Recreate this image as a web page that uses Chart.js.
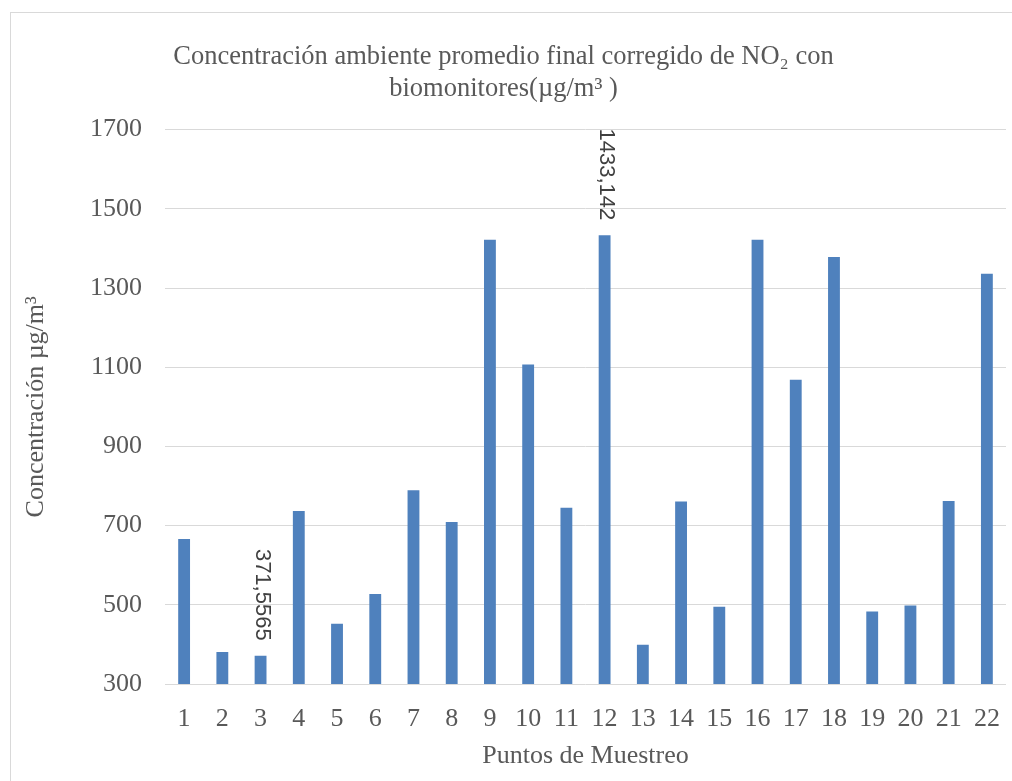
<!DOCTYPE html>
<html lang="es">

<head>
    <meta charset="UTF-8">
    <title>Concentración NO2 con biomonitores</title>
    <script src="https://cdn.jsdelivr.net/npm/chart.js"></script>
    <style>
        html, body {
            margin: 0;
            padding: 0;
            background: #ffffff;
            overflow: hidden;
        }

        #wrap {
            position: relative;
            width: 1012px;
            height: 781px;
        }

        #frame {
            position: absolute;
            left: 10px;
            top: 12px;
            width: 1100px;
            height: 900px;
            border-left: 1px solid #d9d9d9;
            border-top: 1px solid #d9d9d9;
        }

        canvas {
            position: absolute;
            left: 0;
            top: 0;
        }
    </style>
</head>

<body>
    <div id="wrap">
        <div id="frame"></div>
        <canvas id="no2Chart" width="1012" height="781"></canvas>
    </div>

    <script>
        // Datos del gráfico
        const puntos = ['1', '2', '3', '4', '5', '6', '7', '8', '9', '10', '11',
            '12', '13', '14', '15', '16', '17', '18', '19', '20', '21', '22'];
        const concentracion = [666, 381, 371.5565, 737, 452, 527, 789, 709, 1422, 1107, 745,
            1433.142, 399, 761, 495, 1422, 1068, 1378, 483, 498, 762, 1336];
        const etiquetados = [2, 11]; // barras con etiqueta de valor (punto 3 y 12)
        const yTicks = [300, 500, 700, 900, 1100, 1300, 1500, 1700];

        const tituloLineas = [
            'Concentración ambiente promedio final corregido de NO₂ con',
            'biomonitores(µg/m³ )'
        ];

        const serif = '"Liberation Serif", "Times New Roman", serif';

        // Etiquetas de valor rotadas 90° sobre las barras
        const valueLabels = {
            id: 'valueLabels',
            afterDatasetsDraw(chart) {
                const ctx = chart.ctx;
                const meta = chart.getDatasetMeta(0);
                ctx.save();
                ctx.font = '22px "Liberation Sans", Arial, sans-serif';
                ctx.fillStyle = '#404040';
                ctx.textAlign = 'right';
                ctx.textBaseline = 'middle';
                etiquetados.forEach(i => {
                    const bar = meta.data[i];
                    const txt = String(concentracion[i]).replace('.', ',');
                    ctx.save();
                    ctx.translate(bar.x + 1, bar.y - 15);
                    ctx.rotate(Math.PI / 2);
                    ctx.fillText(txt, 0, 0);
                    ctx.restore();
                });
                ctx.restore();
            }
        };

        const ctx = document.getElementById('no2Chart').getContext('2d');
        const no2Chart = new Chart(ctx, {
            type: 'bar',
            data: {
                labels: puntos,
                datasets: [{
                    data: concentracion,
                    backgroundColor: '#4f81bd',
                    borderWidth: 0,
                    categoryPercentage: 1,
                    barPercentage: 0.31
                }]
            },
            options: {
                responsive: false,
                animation: false,
                layout: { padding: { top: 0, right: 5, bottom: 0, left: 0 } },
                plugins: {
                    legend: { display: false },
                    tooltip: { enabled: false },
                    title: {
                        display: true,
                        text: tituloLineas,
                        color: '#595959',
                        font: { family: serif, size: 26.5, weight: 'normal', lineHeight: 1.2 },
                        padding: { top: 41, bottom: 25 }
                    }
                },
                scales: {
                    x: {
                        grid: { display: false },
                        border: { display: false },
                        ticks: {
                            color: '#595959',
                            font: { family: serif, size: 26 },
                            padding: 12,
                            maxRotation: 0
                        },
                        title: {
                            display: true,
                            text: 'Puntos de Muestreo',
                            color: '#595959',
                            font: { family: serif, size: 26 },
                            padding: { top: 0, bottom: 9 }
                        },
                        afterFit(scale) { scale.height = 97; }
                    },
                    y: {
                        min: 300,
                        max: 1700,
                        afterBuildTicks(scale) {
                            scale.ticks = yTicks.map(v => ({ value: v }));
                        },
                        grid: { color: '#d9d9d9', lineWidth: 1, drawTicks: false },
                        border: { display: false },
                        ticks: {
                            color: '#595959',
                            font: { family: serif, size: 26 },
                            padding: 23,
                            callback: v => String(v)
                        },
                        title: {
                            display: true,
                            text: 'Concentración µg/m³',
                            color: '#595959',
                            font: { family: serif, size: 26 },
                            padding: { top: 21, bottom: 0 }
                        },
                        afterFit(scale) { scale.width = 165; }
                    }
                }
            },
            plugins: [valueLabels]
        });
    </script>
</body>

</html>
